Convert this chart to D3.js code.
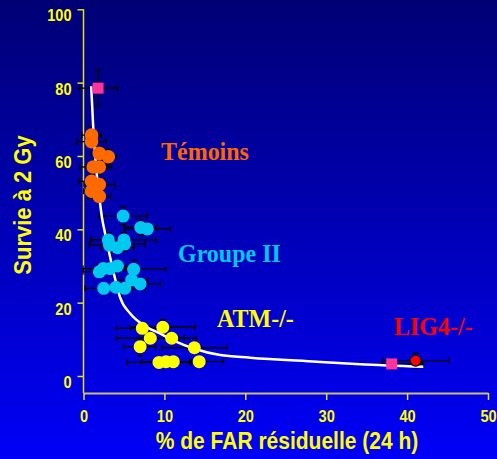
<!DOCTYPE html>
<html>
<head>
<meta charset="utf-8">
<script src="https://cdn.jsdelivr.net/npm/d3@7/dist/d3.min.js"></script>
<style>
html,body{margin:0;padding:0;background:#0000c0;}
svg{display:block;}
</style>
</head>
<body>
<svg id="chart" width="497" height="459"></svg>
<script>
// ---- data ----
const xTicks = [0, 10, 20, 30, 40, 50];
const yTicks = [0, 20, 40, 60, 80, 100];

const temoinsX = [1.0, 1.0, 1.95, 3.07, 1.2, 1.95, 1.0, 1.95, 1.0, 1.95];
const temoinsY = [65.7, 63.9, 60.7, 59.8, 57, 57, 53.1, 52.2, 50.4, 49];
const temoinsXErr = [1.2, 1.8, 1.0, 1.0, 1.6, 1.5, 1.6, 1.9, 1.0, 1.4];
const temoinsYErr = [2.2, 1.5, 1.8, 2.0, 1.8, 2.0, 2.0, 1.5, 2.0, 1.5];

const groupeX = [4.9, 7.07, 7.9, 3.07, 5.0, 3.2, 4.2, 5.1, 1.95, 2.45, 3.3, 4.2, 6.2, 5.95, 7.0, 2.5, 4.0, 5.1];
const groupeY = [43.6, 40.5, 40.1, 37.1, 37.1, 35.7, 35, 36, 28.4, 29.3, 29.3, 30, 29.1, 26.2, 25.1, 23.9, 24.2, 23.9];
const groupeXErr = [3, 2, 2.8, 2.2, 4, 2.5, 2, 2.5, 2, 2.5, 2, 2.5, 4, 2, 2.5, 2.3, 2, 2.5];
const groupeYErr = [2.5, 2, 1.5, 2, 2, 2, 1.5, 2, 1.5, 1.5, 1.5, 1.5, 2.5, 1.5, 1.5, 1.5, 1.5, 1.5];

const atmX = [7.27, 9.8, 8.26, 10.9, 7.0, 13.7, 9.33, 10.2, 11.1, 14.3];
const atmY = [13.0, 13.3, 10.3, 10.3, 8.0, 7.7, 3.7, 3.9, 3.9, 3.9];
const atmXErr = [3.2, 4, 4.2, 3, 2, 4, 4, 3, 2, 3];
const atmYErr = [1.5, 2, 1.5, 1.5, 2.5, 1.5, 1, 1, 1, 1];

const lig4X = [41.06];
const lig4Y = [4.2];
const lig4XErr = [4.1];
const lig4YErr = [2.0];

const squareX = [1.8, 38.1];
const squareY = [78.5, 3.3];
const squareXErr = [2.4, 3.9];
const squareYErr = [5.0, 0];

const curveX = [0.95, 1.2, 1.6, 2.0, 2.3, 2.66, 3.28, 3.9, 4.5, 5.75, 7.4, 9.45, 11.5, 13.6, 16.9, 20.6, 28.8, 34.2, 42];
const curveY = [79, 68, 56, 48, 43, 39, 32.5, 26.6, 21.6, 17.1, 13.9, 11.6, 9.3, 7.5, 5.7, 5.0, 3.9, 3.2, 2.5];

const groupLabels = ["Témoins", "Groupe II", "ATM-/-", "LIG4-/-"];
const xTitle = "% de FAR résiduelle (24 h)";
const yTitle = "Survie à  2 Gy";

// ---- drawing ----
const svg = d3.select("#chart");
const W = 497, H = 459;

const defs = svg.append("defs");
const grad = defs.append("linearGradient").attr("id", "bg").attr("x1", 0).attr("y1", 0).attr("x2", 0).attr("y2", 1);
grad.append("stop").attr("offset", "0%").attr("stop-color", "#000074");
grad.append("stop").attr("offset", "100%").attr("stop-color", "#0000f8");
svg.append("rect").attr("width", W).attr("height", H).attr("fill", "url(#bg)");

const x = d3.scaleLinear().domain([0, 50]).range([83.5, 488]);
const y = d3.scaleLinear().domain([0, 100]).range([376, 9.3]);
const xAxisY = 393;

// Y axis
const yAxis = d3.axisLeft(y).tickValues(yTicks).tickSize(6).tickSizeOuter(0).tickFormat(d3.format("d"));
const gy = svg.append("g").attr("transform", "translate(83.5,0)").call(yAxis);
gy.select(".domain").remove();
gy.append("line").attr("x1", 0).attr("x2", 0).attr("y1", y(100)).attr("y2", xAxisY)
  .attr("stroke", "#e0e020").attr("stroke-width", 1.5);
gy.selectAll(".tick line").attr("stroke", "#e0e020").attr("stroke-width", 1.5);
gy.selectAll(".tick text")
  .attr("fill", "#ffff00").attr("font-family", "Liberation Sans, Arial, sans-serif")
  .attr("font-weight", "bold").attr("font-size", 14.6)
  .attr("x", -12).attr("dy", null).attr("y", 0)
  .attr("transform", "translate(0,11.5) scale(1,1.1)");

// X axis
const xAxis = d3.axisBottom(x).tickValues(xTicks).tickSize(7).tickSizeOuter(0).tickFormat(d3.format("d"));
const gx = svg.append("g").attr("transform", `translate(0,${xAxisY})`).call(xAxis);
gx.select(".domain").attr("stroke", "#c8c070").attr("stroke-width", 2);
gx.selectAll(".tick line").attr("stroke", "#e0e020").attr("stroke-width", 1.5);
gx.selectAll(".tick text")
  .attr("fill", "#ffff00").attr("font-family", "Liberation Sans, Arial, sans-serif")
  .attr("font-weight", "bold").attr("font-size", 14.6)
  .attr("y", 0).attr("dy", null)
  .attr("transform", "translate(0,28.5) scale(1,1.1)");

// Axis titles
svg.append("text").attr("transform", "translate(287,449) scale(1,1.1)")
  .attr("text-anchor", "middle").attr("fill", "#ffff00")
  .attr("font-family", "Liberation Sans, Arial, sans-serif").attr("font-weight", "bold")
  .attr("font-size", 21).text(xTitle);
svg.append("text").attr("transform", "translate(31,205) rotate(-90) scale(1,1.1)")
  .attr("text-anchor", "middle").attr("fill", "#ffff00")
  .attr("font-family", "Liberation Sans, Arial, sans-serif").attr("font-weight", "bold")
  .attr("font-size", 22).text(yTitle);

// Fit curve
const curvePts = curveX.map((d, i) => [d, curveY[i]]);
const line = d3.line().x(d => x(d[0])).y(d => y(d[1])).curve(d3.curveMonotoneX);

// error bars helper
const errG = svg.append("g");
function errorBars(xs, ys, xe, ye) {
  const cap = 3;
  xs.forEach((xv, i) => {
    const cx = x(xv), cy = y(ys[i]);
    if (xe[i] > 0) {
      const x0 = x(xv - xe[i]), x1 = x(xv + xe[i]);
      errG.append("line").attr("x1", x0).attr("x2", x1).attr("y1", cy).attr("y2", cy);
      errG.append("line").attr("x1", x0).attr("x2", x0).attr("y1", cy - cap).attr("y2", cy + cap);
      errG.append("line").attr("x1", x1).attr("x2", x1).attr("y1", cy - cap).attr("y2", cy + cap);
    }
    if (ye[i] > 0) {
      const y0 = y(ys[i] - ye[i]), y1 = y(ys[i] + ye[i]);
      errG.append("line").attr("x1", cx).attr("x2", cx).attr("y1", y0).attr("y2", y1);
      errG.append("line").attr("x1", cx - cap).attr("x2", cx + cap).attr("y1", y0).attr("y2", y0);
      errG.append("line").attr("x1", cx - cap).attr("x2", cx + cap).attr("y1", y1).attr("y2", y1);
    }
  });
}
errorBars(temoinsX, temoinsY, temoinsXErr, temoinsYErr);
errorBars(groupeX, groupeY, groupeXErr, groupeYErr);
errorBars(atmX, atmY, atmXErr, atmYErr);
errorBars(lig4X, lig4Y, lig4XErr, lig4YErr);
errorBars(squareX, squareY, squareXErr, squareYErr);
errG.selectAll("line").attr("stroke", "#000000").attr("stroke-width", 1.3);

svg.append("path").datum(curvePts).attr("d", line)
  .attr("fill", "none").attr("stroke", "#ffffff").attr("stroke-width", 2.5);

function circles(xs, ys, color, r, stroke) {
  svg.append("g").selectAll("circle").data(xs.map((d, i) => [d, ys[i]])).join("circle")
    .attr("cx", d => x(d[0])).attr("cy", d => y(d[1])).attr("r", r)
    .attr("fill", color).attr("stroke", stroke || "none").attr("stroke-width", 1.2);
}
circles(temoinsX, temoinsY, "#ff6a00", 6.8);
circles(groupeX, groupeY, "#00c8f0", 6.5);
circles(atmX, atmY, "#ffff00", 6.5);
circles(lig4X, lig4Y, "#ff0000", 5.5, "#000000");

svg.append("g").selectAll("rect").data(squareX.map((d, i) => [d, squareY[i]])).join("rect")
  .attr("x", d => x(d[0]) - 5.5).attr("y", d => y(d[1]) - 5.5)
  .attr("width", 11).attr("height", 11).attr("fill", "#ff3399");

// group labels
const labelPos = [[161, 160, "#ff6600"], [178, 262, "#00c8f0"], [217, 327, "#ffff00"], [394, 335, "#ff0000"]];
groupLabels.forEach((t, i) => {
  svg.append("text").attr("transform", `translate(${labelPos[i][0]},${labelPos[i][1]}) scale(1,1.05)`)
    .attr("fill", labelPos[i][2]).attr("font-family", "Liberation Serif, Times New Roman, serif")
    .attr("font-weight", "bold").attr("font-size", 24).text(t);
});
</script>
</body>
</html>
